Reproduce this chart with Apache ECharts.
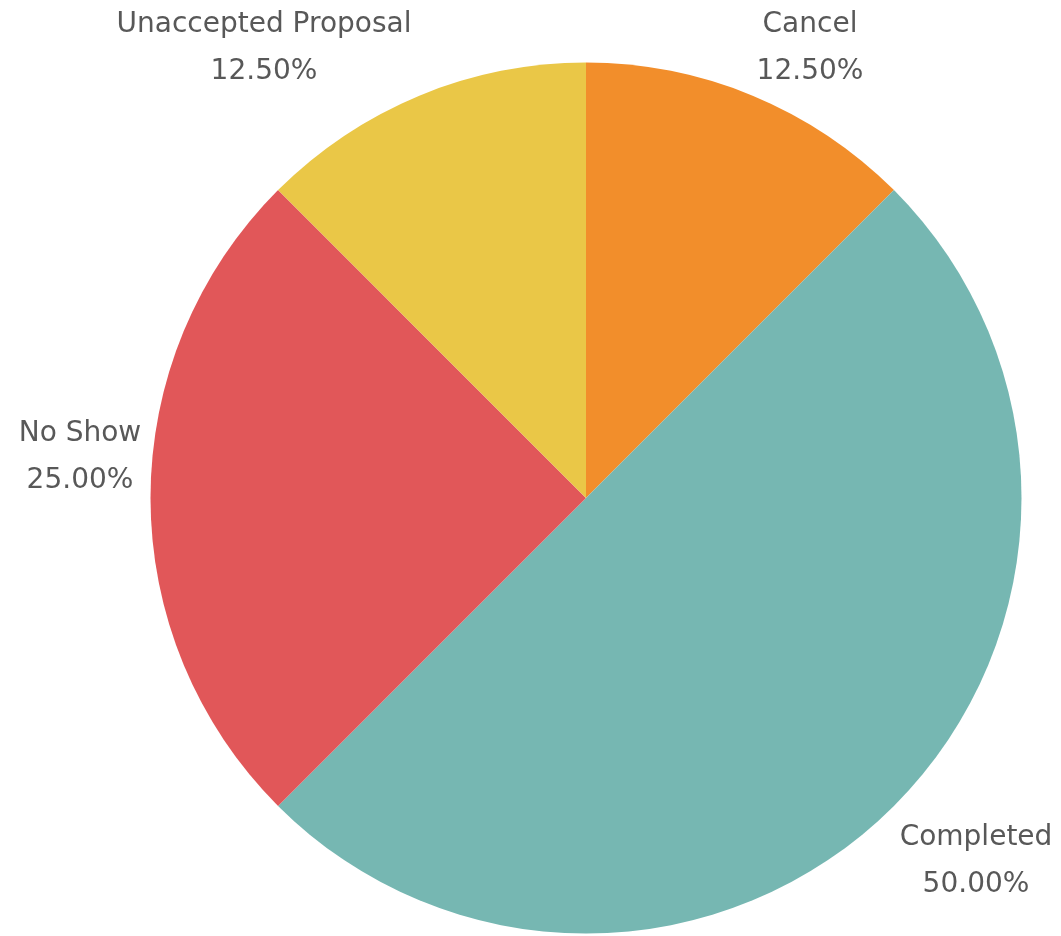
<!DOCTYPE html>
<html>
<head>
<meta charset="utf-8">
<script src="https://cdn.jsdelivr.net/npm/echarts@6/dist/echarts.min.js"></script>
<style>
  html, body { margin: 0; padding: 0; background: #fff; }
  #chart { width: 1061px; height: 936px; }
</style>
</head>
<body>
<div id="chart"></div>
<script>
// Share of sessions by outcome (percent of total)
const categories = ['Cancel', 'Completed', 'No Show', 'Unaccepted Proposal'];
const shares = [12.5, 50, 25, 12.5];

// Slice colours, in the same order as the categories
const sliceColors = ['#F28E2B', '#76B7B2', '#E15759', '#EAC747'];

// Where each two-line label sits (centre of the text block, px)
const labelAnchors = {
  'Cancel': [810, 48],
  'Completed': [976, 861],
  'No Show': [80, 457],
  'Unaccepted Proposal': [264, 48]
};

const chart = echarts.init(document.getElementById('chart'), null, { renderer: 'canvas' });

chart.setOption({
  animation: false,
  backgroundColor: '#ffffff',
  series: [{
    type: 'pie',
    center: [586, 498],
    radius: [0, 435.5],
    startAngle: 90,
    clockwise: true,
    avoidLabelOverlap: false,
    itemStyle: { borderWidth: 0 },
    label: {
      show: true,
      position: 'outside',
      formatter: p => p.name + '\n' + p.value.toFixed(2) + '%',
      color: '#585858',
      fontFamily: 'DejaVu Sans',
      fontSize: 28,
      lineHeight: 47,
      align: 'center'
    },
    labelLine: { show: false },
    labelLayout: params => {
      const a = labelAnchors[categories[params.dataIndex]];
      return { x: a[0], y: a[1], align: 'center', verticalAlign: 'middle' };
    },
    data: categories.map((name, i) => ({
      name: name,
      value: shares[i],
      itemStyle: { color: sliceColors[i] }
    }))
  }]
});
</script>
</body>
</html>
